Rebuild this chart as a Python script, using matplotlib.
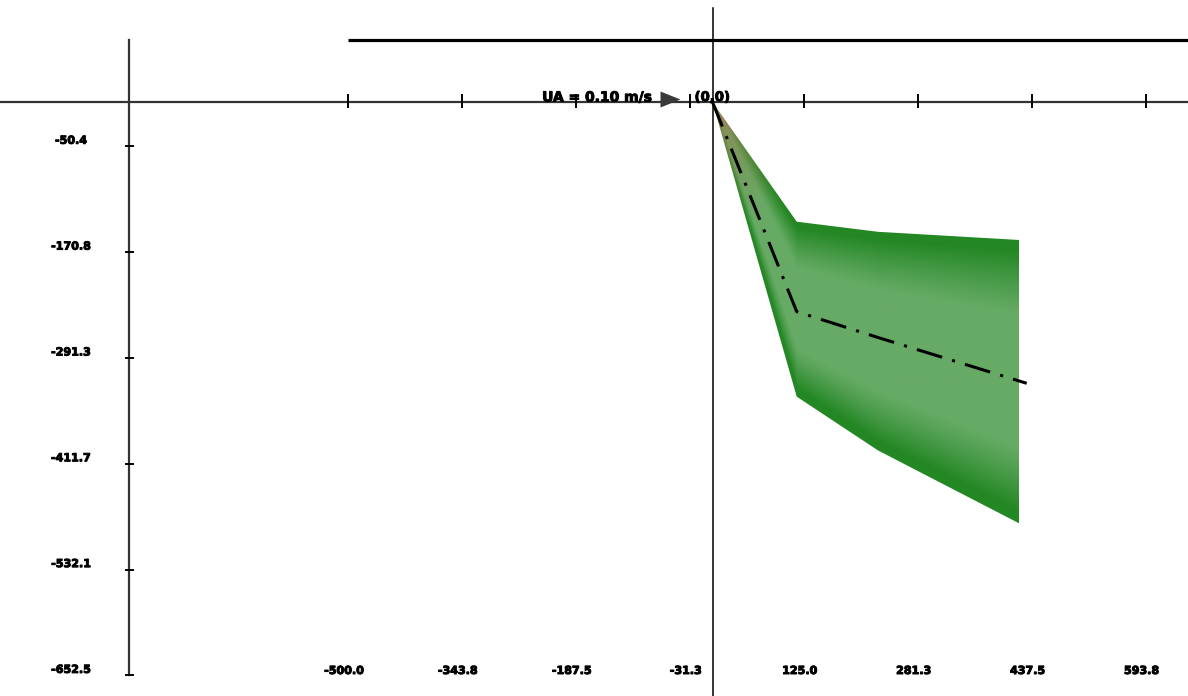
import numpy as np
import matplotlib
matplotlib.use("Agg")
import matplotlib.pyplot as plt
import matplotlib.patheffects as pe
from matplotlib.patches import Polygon

# ---- data (m) -------------------------------------------------------------
# spread of the displacement envelope along the track
band_x = [0.0, 115.5, 227.0, 420.3]
band_upper = [0.0, -136.2, -147.7, -157.0]
band_lower = [0.0, -335.3, -396.5, -479.4]

# mean displacement track
track_x = [0.0, 115.5, 227.0, 430.8]
track_y = [0.0, -238.6, -268.0, -320.1]

x_ticks = [-500.0, -343.8, -187.5, -31.3, 125.0, 281.3, 437.5, 593.8]
y_ticks = [-50.4, -170.8, -291.3, -411.7, -532.1, -652.5]
scale_label = "UA = 0.10 m/s"
origin_label = "(0,0)"

# ---- frame geometry (pixels per metre, origin position) -------------------
W, H, DPI = 1188, 696, 100
SX, SY = 0.7293, 0.8788
X0, Y0 = 712.5, 102.0


def px_x(p):
    return (p - X0) / SX


def px_y(p):
    return (Y0 - p) / SY


plt.rcParams["font.family"] = ["DejaVu Sans"]
plt.rcParams["lines.scale_dashes"] = False
heavy = [pe.withStroke(linewidth=0.7, foreground="black")]

fig = plt.figure(figsize=(W / DPI, H / DPI), dpi=DPI)
ax = fig.add_axes([0, 0, 1, 1])
ax.set_axis_off()
ax.set_xlim(px_x(0), px_x(W))
ax.set_ylim(px_y(H), px_y(0))

# ---- axes lines -----------------------------------------------------------
ax.axhline(0, color="#333333", lw=1.6, zorder=2)
ax.plot([0, 0], [px_y(8), px_y(H)], color="black", lw=1.1, zorder=2)
ax.plot([-500, px_x(W)], [70, 70], color="black", lw=2.3,
        solid_capstyle="butt", zorder=2)
ax.plot([-800, -800], [70, y_ticks[-1]], color="#333333", lw=1.6, zorder=2)

for xt in x_ticks:
    ax.plot([xt, xt], [px_y(95), px_y(107)], color="black", lw=1.4, zorder=3)
    ax.text(xt - 4 / SX, px_y(671), f"{xt:.1f}", ha="center", va="center",
            fontsize=8, fontweight="bold", color="black", path_effects=heavy)
for yt in y_ticks:
    ax.plot([-800 - 3.5 / SX, -800 + 3.5 / SX], [yt, yt], color="black",
            lw=1.4, zorder=3)
    ax.text(px_x(71), yt + 5.5 / SY, f"{yt:.1f}", ha="center", va="center",
            fontsize=8, fontweight="bold", color="black", path_effects=heavy)

# ---- shaded envelope ------------------------------------------------------
xs = np.linspace(0, max(band_x), 500)
ys = np.linspace(min(band_lower), 0, 600)
X, Y = np.meshgrid(xs, ys)
up = np.interp(X, band_x, band_upper)
lo = np.interp(X, band_x, band_lower)
t = np.clip((up - Y) / np.maximum(up - lo, 1e-6), 0, 1)
f = np.clip(1.6 * np.sin(np.pi * t) - 0.2, 0, 1)[..., None]

dark = np.array([0.14, 0.53, 0.14])
light = np.array([0.40, 0.67, 0.40])
olive = np.array([0.56, 0.53, 0.33])
rose = np.array([0.80, 0.47, 0.42])

rgb = dark + f * (light - dark)
r = np.hypot(X * SX, Y * SY)
w = (np.clip(1 - r / 130.0, 0, 1) ** 1.2)[..., None]
rgb = rgb * (1 - w) + olive * w
wr = (np.clip(1 - r / 40.0, 0, 1) * np.clip(1 - 2 * t, 0, 1))[..., None]
rgb = rgb * (1 - wr) + rose * wr

verts = list(zip(band_x, band_upper)) + list(zip(band_x[::-1], band_lower[::-1]))
env = Polygon(verts, closed=True, facecolor="none", edgecolor="none")
ax.add_patch(env)
im = ax.imshow(rgb, extent=(xs[0], xs[-1], ys[0], ys[-1]), origin="lower",
               interpolation="bilinear", aspect="auto", zorder=1)
im.set_clip_path(env)

# ---- mean track -----------------------------------------------------------
ax.plot(track_x, track_y, color="black", lw=2.2,
        linestyle=(0, (19, 7.5, 2.2, 7.5)), dash_capstyle="butt", zorder=4)

# ---- scale arrow and labels -----------------------------------------------
arrow = [(-1, -0.8), (1, 0), (-1, 0.8), (-1, -0.8)]
ax.plot([px_x(670)], [px_y(99)], marker=arrow, ms=14.4, color="#3a3a3a",
        markeredgewidth=0, zorder=5)
ax.text(px_x(652), px_y(97.5), scale_label, ha="right", va="center",
        fontsize=10, fontweight="bold", color="black", zorder=5,
        path_effects=heavy)
ax.text(0, px_y(97.5), origin_label, ha="center", va="center",
        fontsize=9.5, fontweight="bold", color="black", zorder=5,
        path_effects=heavy)

fig.savefig("out.png", dpi=DPI)
